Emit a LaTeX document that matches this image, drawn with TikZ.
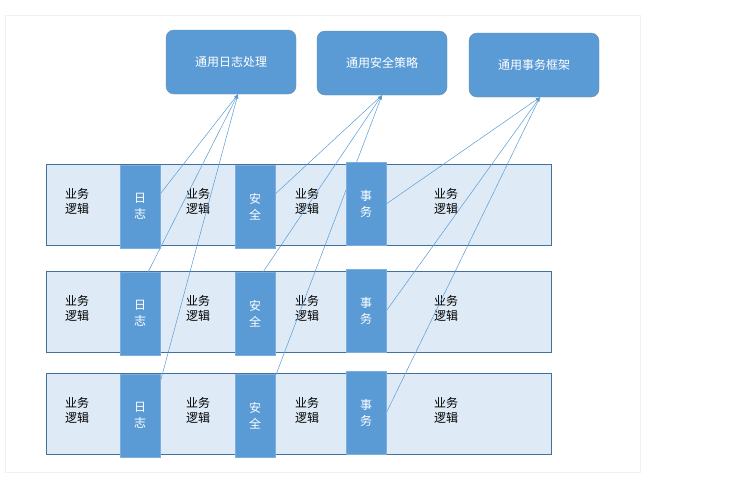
\documentclass[tikz,border=0pt]{standalone}
\usepackage{fontspec}
\setmainfont{Noto Sans CJK SC}
\usetikzlibrary{positioning,backgrounds}
\definecolor{modblue}{RGB}{91,155,213}
\definecolor{rowfill}{RGB}{222,235,247}
\definecolor{rowline}{RGB}{65,113,156}
\tikzset{
  topbox/.style={draw=rowline!80, fill=modblue, rounded corners=8pt, text=white,
    minimum width=130pt, minimum height=64pt, font=\fontsize{12}{14}\selectfont},
  rowbox/.style={draw=rowline, fill=rowfill, minimum width=505pt, minimum height=81pt},
  modbox/.style={draw=modblue!80, fill=modblue, text=white, minimum width=40pt,
    minimum height=83pt, align=center, font=\fontsize{12}{16}\selectfont},
  logic/.style={align=center, font=\fontsize{12}{15}\selectfont},
  link/.style={draw=modblue, line width=0.5pt, -latex}
}
\begin{document}
\begin{tikzpicture}[x=1pt,y=-1pt]
  \useasboundingbox (0,0) rectangle (739,482);
  \draw[black!6] (5,15) rectangle (640,472);

  % common services
  \node[topbox] (log) at (231,62) {通用日志处理};
  \node[topbox] (sec) at (382,63) {通用安全策略};
  \node[topbox] (tx) at (534,65) {通用事务框架};

  % business rows
  \foreach \i/\y in {1/205, 2/312, 3/414} {
    \node[rowbox] (row\i) at (298.5,\y) {};
    \node[logic] at (77,\y-4) {业务\\逻辑};
    \node[logic] at (198,\y-4) {业务\\逻辑};
    \node[logic] at (307,\y-4) {业务\\逻辑};
    \node[logic] at (446,\y-4) {业务\\逻辑};
    \node[modbox] (log\i) at (140,\y+1.5) {日\\志};
    \node[modbox] (sec\i) at (255,\y+1.5) {安\\全};
    \node[modbox] (tx\i) at (366,\y-1) {事\\务};
  }

  % links to common services
  \begin{scope}[on background layer]
    \fill[white] (0,0) rectangle (739,482);
  \end{scope}
  \begin{pgfonlayer}{background}
    \foreach \i in {1,2,3} {
      \path (row\i) ++(0,0);
    }
  \end{pgfonlayer}
  \foreach \m/\t in {log/log, sec/sec, tx/tx} {
    \begin{pgfonlayer}{background}
      \fill[white,opacity=0] (0,0) rectangle (1,1);
    \end{pgfonlayer}
  }
  % connectors drawn over rows, under modules
  \begin{scope}
    \clip (0,0) rectangle (739,482);
  \end{scope}
  \foreach \i/\a in {1/0.35, 2/0, 3/0.1} {
    \path (log\i.north east) -- (log\i.south east) coordinate[pos=\a] (l\i)
          (sec\i.north east) -- (sec\i.south east) coordinate[pos=\a] (s\i)
          (tx\i.north east) -- (tx\i.south east) coordinate[pos=0.5] (t\i);
  }
  \coordinate (l2) at ([xshift=-12pt]log2.north east);
  \coordinate (s2) at ([xshift=-12pt]sec2.north east);
  \coordinate (s3) at ([yshift=-3pt]sec3.north east);
  \foreach \i in {1,2,3} {
    \draw[link] (l\i) -- ([xshift=7pt]log.south);
    \draw[link] (s\i) -- (sec.south);
    \draw[link] (t\i) -- ([xshift=6pt]tx.south);
  }
  % modules again on top of connectors
  \foreach \i/\y in {1/205, 2/312, 3/414} {
    \node[modbox] at (log\i) {日\\志};
    \node[modbox] at (sec\i) {安\\全};
    \node[modbox] at (tx\i) {事\\务};
  }
\end{tikzpicture}
\end{document}
